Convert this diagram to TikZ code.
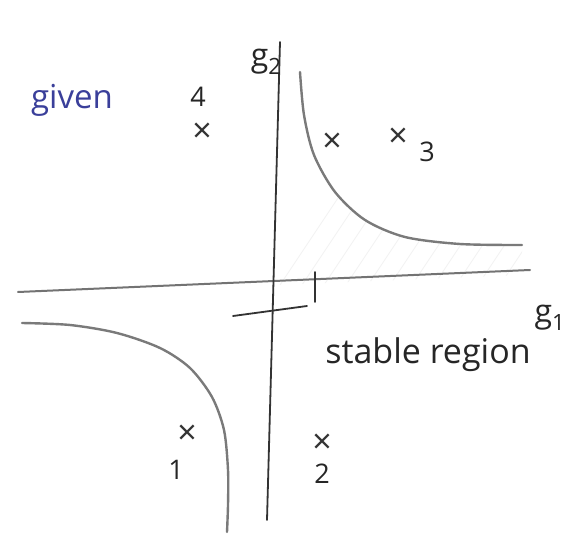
\documentclass[tikz,border=0pt]{standalone}
\usepackage{fontspec}
\setmainfont{Open Sans}
\definecolor{ink}{HTML}{3A3F9A}
\begin{document}
\begin{tikzpicture}[x=1pt,y=-1pt,
  vaxis/.style={line width=1.8pt, draw=black!80, line cap=round},
  haxis/.style={line width=2pt, draw=black!55, line cap=round},
  curve/.style={line width=2.4pt, draw=black!52, line cap=round},
  hatch/.style={line width=0.8pt, draw=black!5},
  hand/.style={font=\fontsize{27}{29}\selectfont, text=black!85, inner sep=0pt},
  xmark/.style={font=\fontsize{34}{36}\selectfont, text=black!80, inner sep=0pt}]
\useasboundingbox[fill=white] (0,0) rectangle (573,540);
% faint hatching in the upper stable region
\begin{scope}
  \clip plot[smooth] coordinates {(300,72) (304,115) (314,155) (335,192) (365,220) (405,237) (460,244) (522,245)} -- (522,275) -- (278,285) -- cycle;
  \foreach \i in {0,...,14} {\draw[hatch] (270+\i*22,300) -- (370+\i*22,150);}
\end{scope}
% axes
\coordinate (yb) at (267,520); \coordinate (yt) at (280,42);
\coordinate (xl) at (18,292); \coordinate (xr) at (530,270);
\draw[haxis] (xl) -- (xr);
\draw[vaxis] (yb) -- (yt);
% tick and short line
\coordinate (t1) at (315,272); \coordinate (t2) at (315,302);
\draw[vaxis] (t1) -- (t2);
\coordinate (s1) at (233,316); \coordinate (s2) at (307,306);
\draw[vaxis] (s1) -- (s2);
% curves
\draw[curve] plot[smooth] coordinates {(300,72) (304,115) (314,155) (335,192) (365,220) (405,237) (460,244) (522,245)};
\draw[curve] plot[smooth] coordinates {(22,323) (70,325) (117,333) (160,348) (190,368) (212,397) (224,430) (228,470) (228,505) (227,532)};
% labels
\node[hand, font=\fontsize{32}{34}\selectfont, anchor=east] (g2) at (282,62) {g\textsubscript{2}};
\node[hand, font=\fontsize{32}{34}\selectfont] (g1) at (550,318) {g\textsubscript{1}};
\node[hand, text=ink, font=\fontsize{33}{35}\selectfont] (given) at (72,100) {given};
\node[hand, font=\fontsize{34}{36}\selectfont] (stable) at (428,355) {stable region};
\node[hand] (n4) at (198,97) {4};
\node[xmark] (x4) at (202,133) {×};
\node[xmark] (xa) at (332,143) {×};
\node[xmark] (x3) at (398,138) {×};
\node[hand] (n3) at (427,152) {3};
\node[xmark] (x1) at (187,435) {×};
\node[hand] (n1) at (176,470) {1};
\node[xmark] (x2) at (322,444) {×};
\node[hand] (n2) at (322,474) {2};
\end{tikzpicture}
\end{document}
